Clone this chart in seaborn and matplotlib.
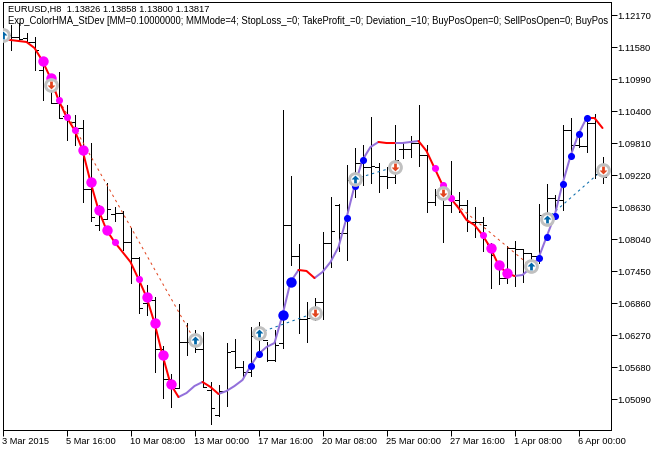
import numpy as np
import pandas as pd
import seaborn as sns
import matplotlib.pyplot as plt
from matplotlib.path import Path
from matplotlib.ticker import FixedLocator, FixedFormatter

# EURUSD H8 bars
high = [1.12078, 1.11986, 1.12023, 1.11839, 1.11764, 1.11249, 1.11064, 1.11119, 1.10511, 1.10327,
        1.10234, 1.09810, 1.08667, 1.09073, 1.08630, 1.08557, 1.08243, 1.07708, 1.07192, 1.06971,
        1.06068, 1.05551, 1.06842, 1.06492, 1.06363, 1.06326, 1.05404, 1.05349, 1.06123, 1.06197,
        1.05791, 1.06418, 1.06510, 1.06141, 1.06363, 1.10419, 1.09202, 1.07948, 1.06879, 1.06953,
        1.08169, 1.08815, 1.08686, 1.09405, 1.09718, 1.09773, 1.10290, 1.09442, 1.09368, 1.10142,
        1.09829, 1.09939, 1.10511, 1.09773, 1.08962, 1.09036, 1.09479, 1.08907, 1.08759, 1.08630,
        1.08446, 1.07967, 1.07616, 1.07911, 1.08004, 1.07838, 1.07764, 1.08686, 1.09055, 1.08852,
        1.10142, 1.10271, 1.10013, 1.10290, 1.10345, 1.09552]
low = [1.11598, 1.11525, 1.11691, 1.11673, 1.11156, 1.10603, 1.10548, 1.10271, 1.09866, 1.09773,
       1.08722, 1.08373, 1.08206, 1.08409, 1.08373, 1.07838, 1.07229, 1.06676, 1.06639, 1.05588,
       1.05109, 1.04943, 1.05293, 1.05902, 1.05957, 1.05312, 1.04629, 1.04777, 1.04962, 1.05662,
       1.05515, 1.05515, 1.05994, 1.05791, 1.05791, 1.06031, 1.07561, 1.06307, 1.06141, 1.06547,
       1.06565, 1.07524, 1.07819, 1.07653, 1.08815, 1.09036, 1.09073, 1.08907, 1.08981, 1.09073,
       1.09534, 1.09552, 1.09386, 1.08538, 1.08667, 1.07985, 1.08538, 1.08538, 1.08188, 1.08077,
       1.07819, 1.07137, 1.07211, 1.07229, 1.07174, 1.07248, 1.07432, 1.07598, 1.08428, 1.08483,
       1.08575, 1.09552, 1.09737, 1.09644, 1.09165, 1.09073]
open_ = [1.11894, 1.11802, 1.11765, 1.11746, 1.11673, 1.11156, 1.10880, 1.10548, 1.10308, 1.10197,
         1.10087, 1.08962, 1.08298, 1.08409, 1.08501, 1.08520, 1.07985, 1.07690, 1.06860, 1.06916,
         1.06012, 1.05459, 1.05293, 1.06141, 1.06141, 1.06012, 1.05256, 1.04795, 1.05238, 1.05975,
         1.05680, 1.05588, 1.06252, 1.06178, 1.05809, 1.06123, 1.08298, 1.07727, 1.06565, 1.06584,
         1.06879, 1.07967, 1.08667, 1.08151, 1.09165, 1.09442, 1.09368, 1.09368, 1.09202, 1.09184,
         1.09700, 1.09700, 1.09810, 1.09589, 1.08722, 1.08852, 1.08667, 1.08759, 1.08667, 1.08354,
         1.08354, 1.07948, 1.07524, 1.07321, 1.07875, 1.07856, 1.07782, 1.07727, 1.08483, 1.08796,
         1.08759, 1.10050, 1.09773, 1.09755, 1.10179, 1.09239]
close = [1.11709, 1.11765, 1.11728, 1.11673, 1.11525, 1.11304, 1.10548, 1.10271, 1.10290, 1.10087,
         1.08962, 1.08446, 1.08538, 1.08594, 1.08520, 1.07985, 1.07690, 1.06768, 1.06916, 1.06012,
         1.05459, 1.05330, 1.06141, 1.06141, 1.06012, 1.05312, 1.04925, 1.05238, 1.05957, 1.05680,
         1.05588, 1.06252, 1.06270, 1.05809, 1.06086, 1.08298, 1.07727, 1.06565, 1.06584, 1.06879,
         1.07967, 1.08188, 1.08151, 1.09128, 1.09442, 1.09368, 1.09386, 1.09202, 1.09184, 1.09497,
         1.09700, 1.09810, 1.09589, 1.08722, 1.08852, 1.08667, 1.08796, 1.08667, 1.08354, 1.08354,
         1.08298, 1.07745, 1.07321, 1.07875, 1.07856, 1.07782, 1.07727, 1.08483, 1.08796, 1.08759,
         1.10050, 1.09773, 1.09755, 1.10179, 1.09239, 1.09184]

# ColorHMA_StDev line
hma = [1.11728, 1.11709, 1.11691, 1.11673, 1.11562, 1.11322, 1.11009, 1.10603, 1.10290, 1.10050,
       1.09681, 1.09091, 1.08575, 1.08206, 1.07985, 1.07801, 1.07616, 1.07303, 1.06971, 1.06492,
       1.05902, 1.05367, 1.05127, 1.05201, 1.05330, 1.05404, 1.05312, 1.05183, 1.05238, 1.05330,
       1.05441, 1.05699, 1.05920, 1.06049, 1.06123, 1.06639, 1.07247, 1.07469, 1.07451, 1.07321,
       1.07432, 1.07616, 1.07893, 1.08428, 1.09018, 1.09497, 1.09737, 1.09829, 1.09810, 1.09810,
       1.09810, 1.09829, 1.09847, 1.09663, 1.09349, 1.09036, 1.08796, 1.08612, 1.08391, 1.08298,
       1.08114, 1.07875, 1.07561, 1.07414, 1.07358, 1.07377, 1.07506, 1.07690, 1.08077, 1.08465,
       1.09055, 1.09571, 1.09976, 1.10271, 1.10271, 1.10087]
hma_up_runs = [(22, 25), (27, 37), (39, 47), (49, 52), (64, 73)]
hma_down_runs = [(0, 22), (25, 27), (37, 39), (47, 49), (52, 64), (73, 75)]

# StDev dots on the line
dots_down_big = [5, 6, 10, 11, 12, 13, 18, 19, 20, 21, 61, 62, 63]
dots_down_small = [7, 8, 9, 14, 17, 54, 55, 56, 60]
dots_up_big = [35, 36]
dots_up_small = [31, 32, 43, 44, 45, 67, 68, 69, 70, 71, 72, 73]

# trade signals
buy_bars = [0, 24, 32, 44, 66, 68]
buy_prices = [1.11802, 1.06178, 1.06307, 1.09146, 1.07543, 1.08409]
sell_bars = [6, 39, 49, 55, 75]
sell_prices = [1.10880, 1.06676, 1.09368, 1.08888, 1.09313]
short_trades = [((6, 1.10880), (24, 1.06178)), ((55, 1.08888), (66, 1.07543))]
long_trades = [((32, 1.06307), (39, 1.06676)), ((44, 1.09146), (49, 1.09368)), ((68, 1.08409), (75, 1.09313))]

y_ticks = [1.12170, 1.11580, 1.10990, 1.10400, 1.09810, 1.09220, 1.08630,
           1.08040, 1.07450, 1.06860, 1.06270, 1.05680, 1.05090]
x_ticks = [0, 8, 16, 24, 32, 40, 48, 56, 64, 72]
x_labels = ['3 Mar 2015', '5 Mar 16:00', '10 Mar 08:00', '13 Mar 00:00', '17 Mar 16:00',
            '20 Mar 08:00', '25 Mar 00:00', '27 Mar 16:00', '1 Apr 08:00', '6 Apr 00:00']
header = 'EURUSD,H8  1.13826 1.13858 1.13800 1.13817'
expert = ('Exp_ColorHMA_StDev [MM=0.10000000; MMMode=4; StopLoss_=0; TakeProfit_=0; Deviation_=10; '
          'BuyPosOpen=0; SellPosOpen=0; BuyPos')

RED = '#ff0000'
PURPLE = '#9370db'
MAGENTA = '#ff00ff'
BLUE = '#0000ff'
BUY = '#0066a8'
SELL = '#e2441e'
RING = '#c0c0c0'
FONT = 6.7

sns.set_theme(style='white')
plt.rcParams['font.family'] = ['Liberation Sans', 'DejaVu Sans']

fig = plt.figure(figsize=(6.62, 4.50), dpi=100)
ax = fig.add_axes([2.5 / 662, 20 / 450, 608 / 662, 428 / 450])

bars = np.arange(len(high))
px = 0.72  # one screen pixel in points

# price bars
ax.vlines(bars, low, high, color='black', linewidth=px, antialiased=False)
ax.hlines(open_, bars - 0.4, bars, color='black', linewidth=px, antialiased=False)
ax.hlines(close, bars, bars + 0.4, color='black', linewidth=px, antialiased=False)

# closed trades
for trades, col in [(short_trades, SELL), (long_trades, BUY)]:
    for start, end in trades:
        ax.plot([start[0], end[0]], [start[1], end[1]], color=col, linewidth=px, linestyle=(0, (2.5, 3.5)))

# indicator line, one run per colour change
rows = []
for run_id, (a, b) in enumerate(hma_up_runs):
    rows += [{'bar': i, 'hma': hma[i], 'trend': 'up', 'run': run_id} for i in range(a, b + 1)]
for run_id, (a, b) in enumerate(hma_down_runs):
    rows += [{'bar': i, 'hma': hma[i], 'trend': 'down', 'run': run_id + 100} for i in range(a, b + 1)]
df_hma = pd.DataFrame(rows)
sns.lineplot(data=df_hma, x='bar', y='hma', hue='trend', units='run', estimator=None,
             palette={'up': PURPLE, 'down': RED}, linewidth=1.45, legend=False, ax=ax)

hma_arr = np.array(hma)
for idx, col, size in [(dots_down_big, MAGENTA, 56), (dots_down_small, MAGENTA, 26),
                       (dots_up_big, BLUE, 56), (dots_up_small, BLUE, 26)]:
    sns.scatterplot(x=idx, y=hma_arr[idx], color=col, s=size, linewidth=0, legend=False, zorder=4, ax=ax)

# signal rings with arrows
up_arrow = Path([(0, 1), (1, 0), (0.35, 0), (0.35, -1), (-0.35, -1), (-0.35, 0), (-1, 0), (0, 1)], closed=True)
down_arrow = Path([(0, -1), (1, 0), (0.35, 0), (0.35, 1), (-0.35, 1), (-0.35, 0), (-1, 0), (0, -1)], closed=True)
for xs, ys, marker, col in [(buy_bars, buy_prices, up_arrow, BUY), (sell_bars, sell_prices, down_arrow, SELL)]:
    sns.scatterplot(x=xs, y=ys, s=72, facecolor='white', edgecolor=RING, linewidth=2.1, legend=False, zorder=5, ax=ax)
    sns.scatterplot(x=xs, y=ys, marker=marker, s=32, color=col, linewidth=0, legend=False, zorder=6, ax=ax)

ax.set_xlim(0, 76)
ax.set_ylim(1.04519, 1.12410)
ax.set_xlabel('')
ax.set_ylabel('')
ax.yaxis.tick_right()
ax.yaxis.set_major_locator(FixedLocator(y_ticks))
ax.yaxis.set_major_formatter(FixedFormatter(['%.5f' % v for v in y_ticks]))
ax.xaxis.set_major_locator(FixedLocator(x_ticks))
ax.xaxis.set_major_formatter(FixedFormatter(x_labels))
ax.tick_params(axis='both', length=4, width=px, color='black', labelcolor='black', labelsize=FONT, pad=1,
               bottom=True, right=True, left=False, top=False)
for lab in ax.get_xticklabels():
    lab.set_ha('left')
for spine in ax.spines.values():
    spine.set_visible(True)
    spine.set_color('black')
    spine.set_linewidth(px)

ax.text(5 / 608, 1 - 7 / 428, header, transform=ax.transAxes, fontsize=6.7, color='black', va='center')
ax.text(5 / 608, 1 - 19 / 428, expert, transform=ax.transAxes, fontsize=6.85, color='black', va='center')

fig.savefig('out.png', dpi=100, facecolor='white')
